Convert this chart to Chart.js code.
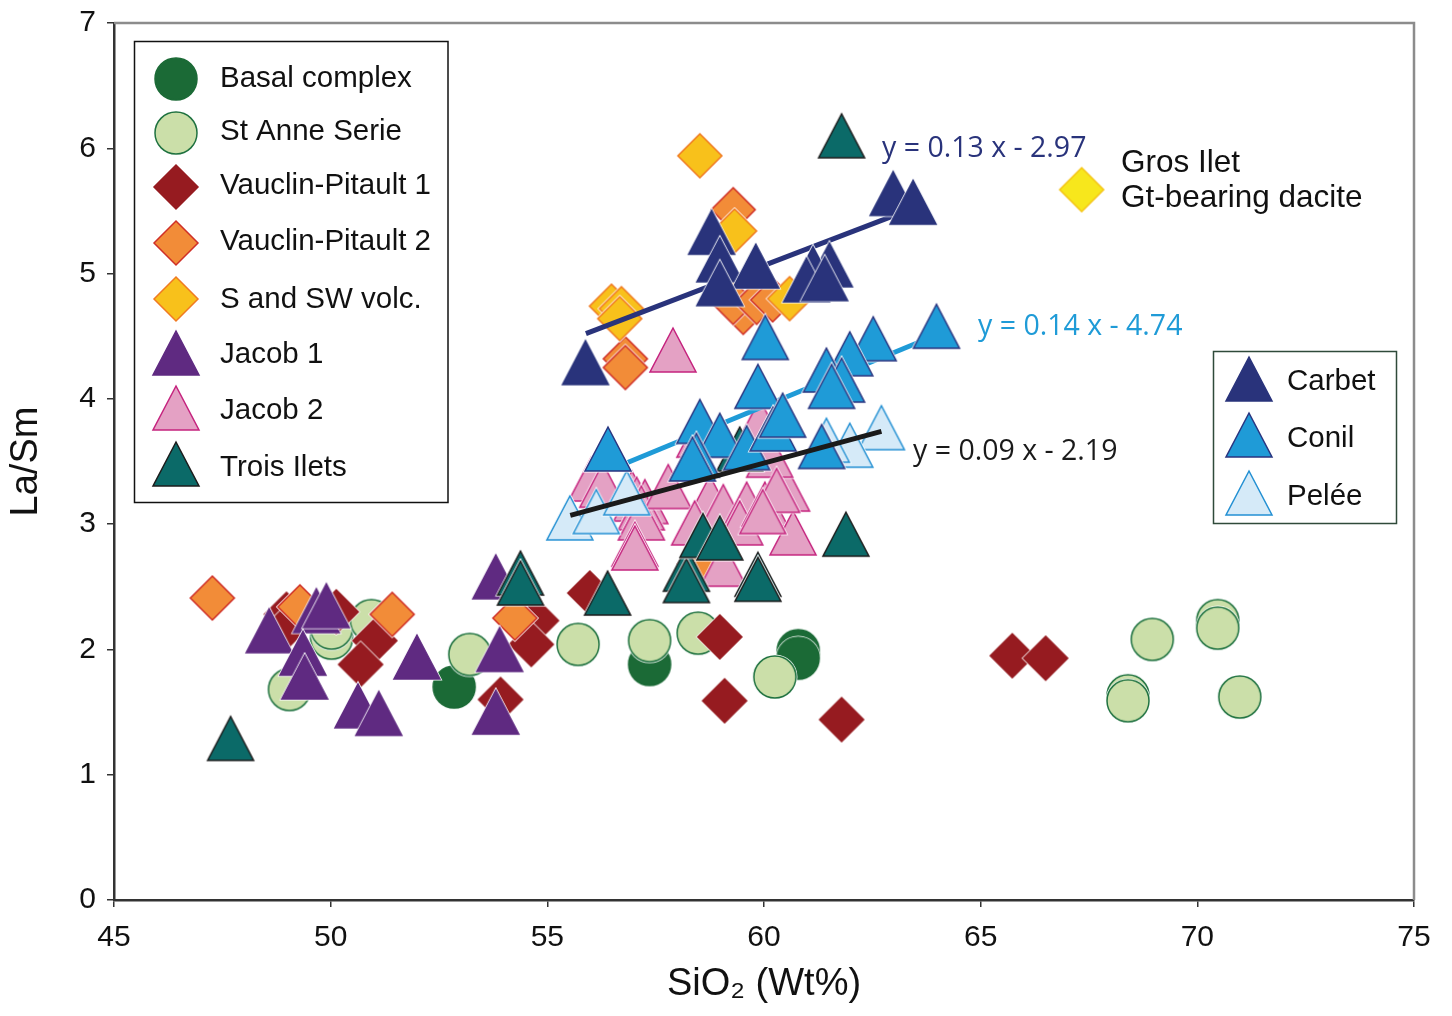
<!DOCTYPE html>
<html>
<head>
<meta charset="utf-8">
<title>La/Sm vs SiO2</title>
<script src="https://cdn.jsdelivr.net/npm/chart.js@4.4.1/dist/chart.umd.min.js"></script>
<style>
  html, body { margin: 0; padding: 0; background: #fff; }
  #wrap { width: 1452px; height: 1016px; }
</style>
</head>
<body>
<div id="wrap"><canvas id="chart" width="1452" height="1016"></canvas></div>
<script>
// SiO2 (x) and La/Sm (y), one list per group
const basalComplex = [[52.85,1.70],[57.36,1.88],[60.79,1.99],[60.79,1.93]];
const stAnneSerie = [[49.05,1.68],[50.02,2.09],[50.02,2.17],[50.94,2.23],[53.21,1.96],[55.71,2.04],[57.36,2.07],
  [58.48,2.13],[60.25,1.78],[68.96,2.08],[68.40,1.63],[68.40,1.59],[70.47,2.23],[70.47,2.17],[70.98,1.62]];
const vauclinPitault1 = [[48.98,2.28],[49.05,2.20],[50.13,2.30],[51.02,2.07],[50.69,1.88],[53.92,1.60],[54.75,2.23],
  [54.63,2.04],[55.98,2.45],[58.98,2.10],[59.09,1.59],[61.79,1.44],[65.73,1.95],[66.50,1.93]];
const vauclinPitault2 = [[47.27,2.41],[49.29,2.34],[51.42,2.28],[54.25,2.25],[58.50,2.68],[56.80,4.32],[56.80,4.25],
  [59.29,5.51],[59.52,4.69],[59.29,4.77],[59.83,4.77],[60.20,4.79]];
const sAndSwVolc = [[58.52,5.94],[59.32,5.34],[56.48,4.74],[56.71,4.72],[56.67,4.64],[60.59,4.80]];
const jacob1 = [[48.58,2.15],[49.67,2.31],[49.90,2.35],[49.36,1.97],[49.40,1.78],[50.63,1.55],[51.11,1.49],
  [51.99,1.94],[53.90,2.00],[53.81,1.50],[53.81,2.58]];
const jacob2 = [[57.90,4.39],[56.02,3.36],[56.28,3.31],[56.95,3.25],[57.06,3.20],[57.25,3.18],[57.17,3.13],[57.17,3.05],
  [57.02,2.84],[57.02,2.81],[57.79,3.30],[58.75,3.21],[58.40,3.01],[59.06,3.14],[59.60,3.16],[59.44,3.01],
  [60.02,3.16],[60.52,3.28],[60.67,2.93],[59.06,2.68],[58.52,3.71],[59.90,3.82],[60.13,3.55],[60.29,3.27],[59.97,3.10]];
const troisIlets = [[47.69,1.29],[54.38,2.61],[54.38,2.53],[56.39,2.45],[58.21,2.64],[58.21,2.55],[58.59,2.91],
  [58.98,2.89],[59.86,2.60],[59.86,2.56],[61.89,2.92],[61.79,6.10],[59.44,3.60]];
const carbet = [[62.98,5.64],[63.44,5.57],[58.79,5.33],[58.98,5.11],[59.81,5.06],[58.98,4.92],[61.51,5.07],
  [61.13,5.04],[60.98,4.95],[61.40,4.96],[55.88,4.29]];
const conil = [[63.98,4.58],[62.52,4.48],[61.98,4.36],[61.44,4.23],[61.79,4.15],[61.56,4.10],[61.33,3.62],
  [60.03,4.49],[59.86,4.10],[56.40,3.60],[58.52,3.82],[58.98,3.71],[58.44,3.55],[58.35,3.52],[59.60,3.61],
  [60.21,3.76],[60.43,3.87]];
const pelee = [[55.52,3.05],[56.13,3.10],[56.83,3.25],[62.71,3.77],[61.98,3.63],[61.44,3.67]];
const grosIlet = [[67.33,5.67]];

// regression segments (end points as drawn)
const carbetTrend = [[55.89,4.52],[63.06,5.47]];
const conilTrend = [[56.49,3.44],[63.70,4.47]];
const peleeTrend = [[55.53,3.07],[62.71,3.74]];

const xTicks = [45, 50, 55, 60, 65, 70, 75];
const yTicks = [0, 1, 2, 3, 4, 5, 6, 7];

const SANS = '"Liberation Sans", Arial, sans-serif';

// marker images, centred on the point
function marker(shape, fill, stroke) {
  const c = document.createElement('canvas');
  c.width = 56; c.height = 56;
  const g = c.getContext('2d');
  const m = 28;
  g.beginPath();
  if (shape === 'circle') {
    g.arc(m, m, 21, 0, Math.PI * 2);
  } else if (shape === 'diamond') {
    g.moveTo(m, m - 22); g.lineTo(m + 22, m); g.lineTo(m, m + 22); g.lineTo(m - 22, m); g.closePath();
  } else {
    g.moveTo(m, m - 22); g.lineTo(m + 23, m + 22); g.lineTo(m - 23, m + 22); g.closePath();
  }
  g.strokeStyle = '#fff'; g.lineWidth = 3; g.stroke();
  g.fillStyle = fill; g.fill();
  g.strokeStyle = stroke; g.lineWidth = 1.5; g.stroke();
  return c;
}

const mk = {
  basal: marker('circle', '#1b6a36', '#1b6a36'),
  stAnne: marker('circle', '#cbdfa9', '#1f7240'),
  vp1: marker('diamond', '#961b20', '#961b20'),
  vp2: marker('diamond', '#f28c38', '#cf2f27'),
  ssw: marker('diamond', '#f8c11b', '#f07a22'),
  jacob1: marker('triangle', '#5f2a81', '#5f2a81'),
  jacob2: marker('triangle', '#e4a1c4', '#c5237e'),
  trois: marker('triangle', '#0b6a68', '#1c1c1c'),
  carbet: marker('triangle', '#29337b', '#29337b'),
  conil: marker('triangle', '#1f9bd7', '#2a3580'),
  pelee: marker('triangle', '#d5eaf8', '#2390d3'),
  gros: marker('diamond', '#f7e71c', '#f5c518')
};

const pts = a => a.map(([x, y]) => ({ x, y }));

const scatterSet = (label, data, style, order) => ({
  label, data: pts(data), pointStyle: style, pointRadius: 22, pointHoverRadius: 22,
  showLine: false, order, clip: false
});
const trendSet = (label, data, color, order) => ({
  label, data: pts(data), showLine: true, borderColor: color, borderWidth: 5,
  pointRadius: 0, pointHoverRadius: 0, order, fill: false
});

const leftLegend = [
  ['Basal complex', mk.basal, 79, 87],
  ['St Anne Serie', mk.stAnne, 133, 140],
  ['Vauclin-Pitault 1', mk.vp1, 187, 194],
  ['Vauclin-Pitault 2', mk.vp2, 243, 250],
  ['S and SW volc.', mk.ssw, 299, 308],
  ['Jacob 1', mk.jacob1, 353, 363],
  ['Jacob 2', mk.jacob2, 408, 419],
  ['Trois Ilets', mk.trois, 464, 476]
];
const rightLegend = [
  ['Carbet', mk.carbet, 379, 390],
  ['Conil', mk.conil, 435, 447],
  ['Pelée', mk.pelee, 493, 505]
];

const overlay = {
  id: 'overlay',
  beforeDatasetsDraw(chart) {
    const { ctx, chartArea: a } = chart;
    ctx.save();
    ctx.strokeStyle = '#8c8c8c';
    ctx.lineWidth = 2.5;
    ctx.beginPath();
    ctx.moveTo(a.left, a.top);
    ctx.lineTo(a.right, a.top);
    ctx.lineTo(a.right, a.bottom);
    ctx.stroke();
    ctx.restore();
  },
  afterDraw(chart) {
    const ctx = chart.ctx;
    ctx.save();
    ctx.textBaseline = 'alphabetic';
    ctx.textAlign = 'left';

    // legend boxes
    ctx.fillStyle = '#fff';
    ctx.fillRect(134.5, 41.5, 313.5, 461);
    ctx.strokeStyle = '#111';
    ctx.lineWidth = 1.5;
    ctx.strokeRect(134.5, 41.5, 313.5, 461);
    ctx.font = '29.5px ' + SANS;
    leftLegend.forEach(([t, img, my, by]) => {
      ctx.drawImage(img, 176 - 28, my - 28);
      ctx.fillStyle = '#111';
      ctx.fillText(t, 220, by);
    });

    ctx.fillStyle = '#fff';
    ctx.fillRect(1213.5, 351.5, 183, 172);
    ctx.strokeStyle = '#2f4a3a';
    ctx.strokeRect(1213.5, 351.5, 183, 172);
    rightLegend.forEach(([t, img, my, by]) => {
      ctx.drawImage(img, 1249 - 28, my - 28);
      ctx.fillStyle = '#111';
      ctx.fillText(t, 1287, by);
    });

    // regression equations
    ctx.font = '28.5px "Open Sans", sans-serif';
    ctx.fillStyle = '#29337b';
    ctx.fillText('y = 0.13 x - 2.97', 882, 157);
    ctx.fillStyle = '#1f9bd7';
    ctx.fillText('y = 0.14 x - 4.74', 978, 335);
    ctx.fillStyle = '#1a1a1a';
    ctx.fillText('y = 0.09 x - 2.19', 913, 460);

    // garnet-bearing dacite label
    ctx.font = '31.5px ' + SANS;
    ctx.fillStyle = '#111';
    ctx.fillText('Gros Ilet', 1121, 172);
    ctx.fillText('Gt-bearing dacite', 1121, 207);
    ctx.restore();
  }
};

new Chart(document.getElementById('chart'), {
  type: 'scatter',
  data: {
    datasets: [
      trendSet('Pelée trend', peleeTrend, '#1a1a1a', 0),
      scatterSet('Gros Ilet Gt-bearing dacite', grosIlet, mk.gros, 0),
      scatterSet('Carbet', carbet, mk.carbet, 1),
      trendSet('Carbet trend', carbetTrend, '#29337b', 2),
      scatterSet('Conil', conil, mk.conil, 3),
      trendSet('Conil trend', conilTrend, '#1f9bd7', 4),
      scatterSet('Pelée', pelee, mk.pelee, 5),
      scatterSet('Trois Ilets', troisIlets, mk.trois, 6),
      scatterSet('Jacob 2', jacob2, mk.jacob2, 7),
      scatterSet('Jacob 1', jacob1, mk.jacob1, 8),
      scatterSet('S and SW volc.', sAndSwVolc, mk.ssw, 9),
      scatterSet('Vauclin-Pitault 2', vauclinPitault2, mk.vp2, 10),
      scatterSet('Vauclin-Pitault 1', vauclinPitault1, mk.vp1, 11),
      scatterSet('St Anne Serie', stAnneSerie, mk.stAnne, 12),
      scatterSet('Basal complex', basalComplex, mk.basal, 13)
    ]
  },
  options: {
    responsive: false,
    animation: false,
    events: [],
    layout: { padding: { left: 0, top: 16, right: 38, bottom: 0 } },
    plugins: {
      legend: { display: false },
      tooltip: { enabled: false }
    },
    scales: {
      x: {
        type: 'linear',
        min: xTicks[0],
        max: xTicks[xTicks.length - 1],
        afterBuildTicks: s => { s.ticks = xTicks.map(v => ({ value: v })); },
        afterFit: s => { s.height = 116; s.paddingLeft = 0; s.paddingRight = 0; },
        grid: { display: true, drawOnChartArea: false, drawTicks: true, tickLength: 7, color: '#333', lineWidth: 1.5 },
        border: { display: true, color: '#333', width: 2.5 },
        ticks: { color: '#111', padding: 13, font: { family: SANS, size: 30 }, maxRotation: 0 },
        title: {
          display: true, text: 'SiO₂ (Wt%)', color: '#111',
          font: { family: SANS, size: 38 }, padding: { top: 0, bottom: 9 }
        }
      },
      y: {
        type: 'linear',
        min: yTicks[0],
        max: yTicks[yTicks.length - 1],
        afterBuildTicks: s => { s.ticks = yTicks.map(v => ({ value: v })); },
        afterFit: s => { s.width = 114; s.paddingTop = 0; s.paddingBottom = 0; },
        grid: { display: true, drawOnChartArea: false, drawTicks: true, tickLength: 7, color: '#333', lineWidth: 1.5 },
        border: { display: true, color: '#333', width: 2.5 },
        ticks: { color: '#111', padding: 11, font: { family: SANS, size: 30 } },
        title: {
          display: true, text: 'La/Sm', color: '#111',
          font: { family: SANS, size: 38 }, padding: { top: 4, bottom: 0 }
        }
      }
    }
  },
  plugins: [overlay]
});
</script>
</body>
</html>
